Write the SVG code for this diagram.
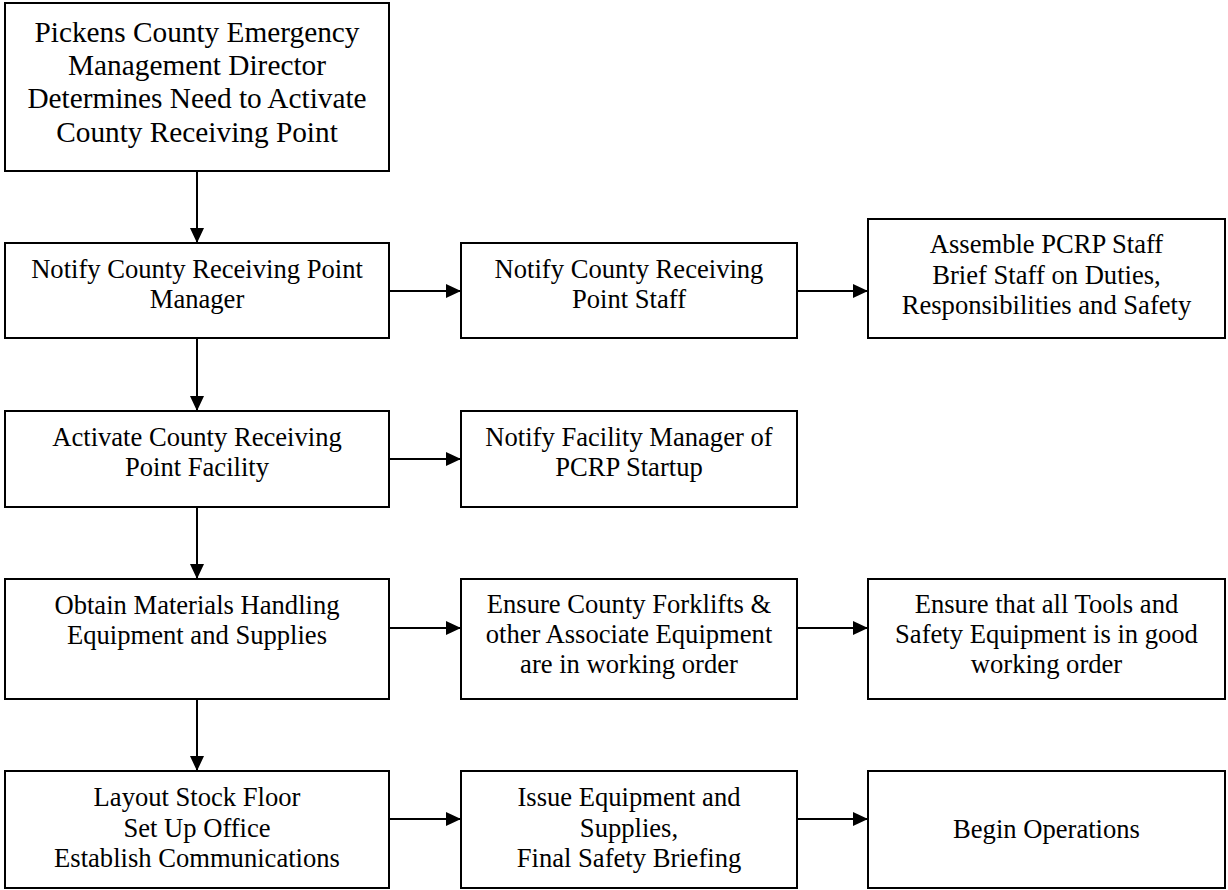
<svg xmlns="http://www.w3.org/2000/svg" width="1228" height="890" viewBox="0 0 1228 890">
<defs>
<style>
.box{fill:#fff;stroke:#000;stroke-width:2}
.t{font-family:"Liberation Serif","Times New Roman",serif;font-size:26.6px;fill:#000;text-anchor:middle}
.tb{font-size:29.3px}
.c{stroke:#000;stroke-width:2;fill:none;marker-end:url(#ah)}
</style>
<marker id="ah" markerUnits="userSpaceOnUse" markerWidth="15" markerHeight="14" refX="15" refY="7" orient="auto">
<path d="M0,0 L15,7 L0,14 z" fill="#000"/>
</marker>
</defs>
<rect width="1228" height="890" fill="#fff"/>
<g id="connectors">
<line class="c" x1="197" y1="171" x2="197" y2="243"/>
<line class="c" x1="197" y1="338" x2="197" y2="411"/>
<line class="c" x1="197" y1="507" x2="197" y2="579"/>
<line class="c" x1="197" y1="699" x2="197" y2="771"/>
<line class="c" x1="389" y1="291" x2="461" y2="291"/>
<line class="c" x1="797" y1="291" x2="868" y2="291"/>
<line class="c" x1="389" y1="459" x2="461" y2="459"/>
<line class="c" x1="389" y1="628" x2="461" y2="628"/>
<line class="c" x1="797" y1="628" x2="868" y2="628"/>
<line class="c" x1="389" y1="819" x2="461" y2="819"/>
<line class="c" x1="797" y1="819" x2="868" y2="819"/>
</g>
<g id="n1">
<rect class="box" x="5" y="3" width="384" height="168"/>
<text class="t tb" x="197" y="41.7">Pickens County Emergency</text>
<text class="t tb" x="197" y="75">Management Director</text>
<text class="t tb" x="197" y="108.3">Determines Need to Activate</text>
<text class="t tb" x="197" y="141.6">County Receiving Point</text>
</g>
<g id="n2">
<rect class="box" x="5" y="243" width="384" height="95"/>
<text class="t" x="197" y="278">Notify County Receiving Point</text>
<text class="t" x="197" y="308">Manager</text>
</g>
<g id="n3">
<rect class="box" x="461" y="243" width="336" height="95"/>
<text class="t" x="629" y="278">Notify County Receiving</text>
<text class="t" x="629" y="308">Point Staff</text>
</g>
<g id="n4">
<rect class="box" x="868" y="219" width="357" height="119"/>
<text class="t" x="1046.5" y="253">Assemble PCRP Staff</text>
<text class="t" x="1046.5" y="283.5">Brief Staff on Duties,</text>
<text class="t" x="1046.5" y="314">Responsibilities and Safety</text>
</g>
<g id="n5">
<rect class="box" x="5" y="411" width="384" height="96"/>
<text class="t" x="197" y="446">Activate County Receiving</text>
<text class="t" x="197" y="476">Point Facility</text>
</g>
<g id="n6">
<rect class="box" x="461" y="411" width="336" height="96"/>
<text class="t" x="629" y="446">Notify Facility Manager of</text>
<text class="t" x="629" y="476">PCRP Startup</text>
</g>
<g id="n7">
<rect class="box" x="5" y="579" width="384" height="120"/>
<text class="t" x="197" y="614">Obtain Materials Handling</text>
<text class="t" x="197" y="644">Equipment and Supplies</text>
</g>
<g id="n8">
<rect class="box" x="461" y="579" width="336" height="120"/>
<text class="t" x="629" y="613">Ensure County Forklifts &amp;</text>
<text class="t" x="629" y="643">other Associate Equipment</text>
<text class="t" x="629" y="673">are in working order</text>
</g>
<g id="n9">
<rect class="box" x="868" y="579" width="357" height="120"/>
<text class="t" x="1046.5" y="613">Ensure that all Tools and</text>
<text class="t" x="1046.5" y="643">Safety Equipment is in good</text>
<text class="t" x="1046.5" y="673">working order</text>
</g>
<g id="n10">
<rect class="box" x="5" y="771" width="384" height="117"/>
<text class="t" x="197" y="806">Layout Stock Floor</text>
<text class="t" x="197" y="836.5">Set Up Office</text>
<text class="t" x="197" y="867">Establish Communications</text>
</g>
<g id="n11">
<rect class="box" x="461" y="771" width="336" height="117"/>
<text class="t" x="629" y="806">Issue Equipment and</text>
<text class="t" x="629" y="836.5">Supplies,</text>
<text class="t" x="629" y="867">Final Safety Briefing</text>
</g>
<g id="n12">
<rect class="box" x="868" y="771" width="357" height="117"/>
<text class="t" x="1046.5" y="838">Begin Operations</text>
</g>
</svg>
